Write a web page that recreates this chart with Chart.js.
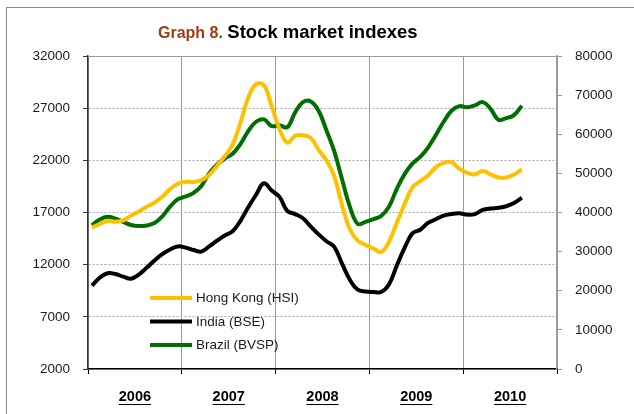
<!DOCTYPE html>
<html>
<head>
<meta charset="utf-8">
<script src="https://cdn.jsdelivr.net/npm/chart.js@4"></script>
<style>
  html, body { margin: 0; padding: 0; background: #fff; }
  #wrap { width: 634px; height: 414px; }
</style>
</head>
<body>
<div id="wrap"><canvas id="stockChart" width="634" height="414"></canvas></div>
<script>
// monthly, Jan 2006 .. Aug 2010
const years = ['2006', '2007', '2008', '2009', '2010'];
const leftTicks = [2000, 7000, 12000, 17000, 22000, 27000, 32000];
const rightTicks = [0, 10000, 20000, 30000, 40000, 50000, 60000, 70000, 80000];

const hsi = [15550, 15900, 16180, 16120, 16250, 16700, 17100, 17550, 17950, 18500, 19250, 19750,
    19950, 19920, 20100, 20600, 21460, 22400, 23500, 25600, 28000, 29300, 29200, 27200,
    25000, 23700, 24350, 24400, 24150, 23000, 22000, 20500, 17700, 15400, 14300, 13900,
    13550, 13200, 14200, 16000, 17800, 19400, 20000, 20550, 21350, 21750, 21840, 21200,
    20800, 20650, 20980, 20650, 20350, 20350, 20650, 21130];

const bse = [10000, 10750, 11180, 11100, 10850, 10650, 11050, 11700, 12400, 13000, 13450, 13750,
    13630, 13400, 13250, 13750, 14300, 14800, 15200, 16200, 17500, 18700, 19800, 19100,
    18500, 17150, 16850, 16450, 15650, 14900, 14250, 13700, 12100, 10550, 9600, 9420,
    9380, 9380, 10100, 11900, 13600, 15000, 15350, 16000, 16350, 16700, 16850, 16920,
    16800, 16850, 17250, 17380, 17450, 17600, 17900, 18420];

const bvsp = [36700, 38200, 38900, 38400, 37600, 36800, 36550, 36700, 37300, 39000, 41500, 43400,
    44100, 45000, 46800, 50000, 52200, 53800, 55000, 57500, 60800, 63200, 63800, 62100,
    62300, 61800, 65600, 68200, 68400, 66000, 61000, 55700, 48500, 41500, 37100, 37600,
    38300, 39100, 41500, 46000, 49800, 52500, 54200, 56600, 59800, 63200, 66000, 67200,
    66900, 67400, 68200, 66500, 63700, 64100, 64900, 67300];

const FONT = "'Liberation Sans', Arial, sans-serif";

function toPoints(arr) {
    return arr.map((v, i) => ({ x: i + 0.5, y: v }));
}

const frame = {
    id: 'frame',
    beforeDraw(chart) {
        const ctx = chart.ctx;
        ctx.save();
        ctx.fillStyle = '#fff';
        ctx.fillRect(0, 0, chart.width, chart.height);
        ctx.strokeStyle = '#8c8c8c';
        ctx.lineWidth = 1;
        ctx.strokeRect(6.5, 7.5, 800, 600);
        ctx.restore();
    },
    afterDraw(chart) {
        const ctx = chart.ctx;
        const a = chart.chartArea;
        ctx.save();
        // top border of plot
        ctx.strokeStyle = '#999';
        ctx.lineWidth = 1;
        ctx.beginPath();
        ctx.moveTo(a.left, Math.round(a.top) + 0.5);
        ctx.lineTo(a.right, Math.round(a.top) + 0.5);
        ctx.stroke();

        // title
        ctx.textBaseline = 'alphabetic';
        ctx.textAlign = 'left';
        ctx.font = 'bold 16px ' + FONT;
        ctx.fillStyle = '#9c3d12';
        const t1 = 'Graph 8. ';
        ctx.fillText(t1, 158, 38);
        const w1 = ctx.measureText(t1).width;
        ctx.font = 'bold 18.5px ' + FONT;
        ctx.fillStyle = '#000';
        ctx.fillText('Stock market indexes', 158 + w1, 38);

        // underline year labels
        const xs = chart.scales.x;
        ctx.font = 'bold 14.5px ' + FONT;
        ctx.strokeStyle = '#000';
        ctx.lineWidth = 1.2;
        years.forEach((y, i) => {
            const cx = xs.getPixelForValue(i * 12 + 6);
            const w = ctx.measureText(y).width;
            ctx.beginPath();
            ctx.moveTo(cx - w / 2, 404.5);
            ctx.lineTo(cx + w / 2, 404.5);
            ctx.stroke();
        });

        // legend
        ctx.font = '13.5px ' + FONT;
        ctx.textBaseline = 'middle';
        ctx.lineWidth = 4;
        chart.data.datasets.forEach((ds, i) => {
            const y = 298 + i * 23.5;
            ctx.strokeStyle = ds.borderColor;
            ctx.beginPath();
            ctx.moveTo(150, y);
            ctx.lineTo(192, y);
            ctx.stroke();
            ctx.fillStyle = '#1a1a1a';
            ctx.fillText(ds.label, 196, y + 0.5);
        });
        ctx.restore();
    }
};

const lineStyle = {
    borderWidth: 4,
    pointRadius: 0,
    tension: 0.4,
    fill: false
};

new Chart(document.getElementById('stockChart'), {
    type: 'line',
    data: {
        datasets: [
            { ...lineStyle, label: 'Hong Kong (HSI)', data: toPoints(hsi), borderColor: '#ffc000', yAxisID: 'y' },
            { ...lineStyle, label: 'India (BSE)', data: toPoints(bse), borderColor: '#000000', yAxisID: 'y' },
            { ...lineStyle, label: 'Brazil (BVSP)', data: toPoints(bvsp), borderColor: '#006e00', yAxisID: 'y1' }
        ]
    },
    options: {
        responsive: false,
        animation: false,
        layout: { padding: { top: 56, left: 0, right: 0, bottom: 0 } },
        plugins: {
            legend: { display: false },
            title: { display: false },
            tooltip: { enabled: false }
        },
        scales: {
            x: {
                type: 'linear',
                min: 0,
                max: 60,
                afterBuildTicks: s => {
                    const t = [];
                    for (let v = 0; v <= 60; v += 6) t.push({ value: v });
                    s.ticks = t;
                },
                afterFit: s => { s.height = 45; },
                grid: {
                    color: c => (c.tick && c.tick.value % 12 === 0) ? '#9a9a9a' : 'rgba(0,0,0,0)',
                    tickColor: c => (c.tick && c.tick.value % 12 === 0) ? '#000' : 'rgba(0,0,0,0)',
                    tickLength: 5
                },
                border: { color: '#000', width: 1.5 },
                ticks: {
                    autoSkip: false,
                    maxRotation: 0,
                    padding: 14,
                    color: '#000',
                    font: { family: FONT, size: 14.5, weight: 'bold' },
                    callback: v => (v % 12 === 6) ? years[(v - 6) / 12] : ''
                }
            },
            y: {
                position: 'left',
                min: 2000,
                max: 32000,
                afterBuildTicks: s => { s.ticks = leftTicks.map(v => ({ value: v })); },
                afterFit: s => { s.width = 88; },
                grid: { color: '#a8a8a8', tickColor: '#333', tickLength: 5 },
                border: { color: '#333', width: 1.5, dash: [2, 2] },
                ticks: {
                    padding: 13,
                    color: '#1a1a1a',
                    font: { family: FONT, size: 13.5 },
                    callback: v => String(v)
                }
            },
            y1: {
                position: 'right',
                min: 0,
                max: 80000,
                afterBuildTicks: s => { s.ticks = rightTicks.map(v => ({ value: v })); },
                afterFit: s => { s.width = 77; },
                grid: { drawOnChartArea: false, tickColor: '#999', tickLength: 5 },
                border: { color: '#999', width: 1.5 },
                ticks: {
                    padding: 13,
                    color: '#1a1a1a',
                    font: { family: FONT, size: 13.5 },
                    callback: v => String(v)
                }
            }
        }
    },
    plugins: [frame]
});
</script>
</body>
</html>
